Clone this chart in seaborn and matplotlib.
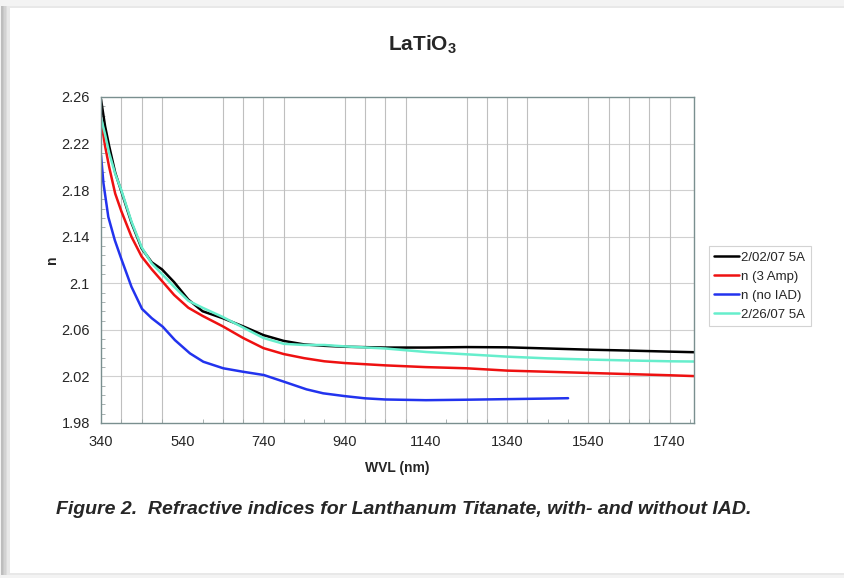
import matplotlib
matplotlib.use("Agg")
import matplotlib.pyplot as plt
import matplotlib.patches as mpatches
import numpy as np
import pandas as pd
import seaborn as sns
from matplotlib.ticker import FixedLocator, FuncFormatter

# data
WVL = [340, 350, 360, 375, 390, 415, 440, 465, 490, 520, 555, 590, 640, 690,
       740, 790, 840, 890, 940, 1040, 1140, 1240, 1340, 1440, 1540, 1640, 1740, 1800]
N_0202_5A = [2.258, 2.235, 2.218, 2.195, 2.179, 2.152, 2.130, 2.118, 2.112, 2.101,
             2.086, 2.076, 2.070, 2.063, 2.0555, 2.0505, 2.0475, 2.0463, 2.0455,
             2.0448, 2.0448, 2.0452, 2.0450, 2.0440, 2.0430, 2.0422, 2.0413, 2.0408]
N_3AMP = [2.240, 2.218, 2.200, 2.177, 2.162, 2.140, 2.123, 2.112, 2.102, 2.090,
          2.079, 2.072, 2.063, 2.053, 2.0443, 2.0392, 2.0357, 2.033, 2.0315,
          2.0295, 2.028, 2.027, 2.025, 2.024, 2.023, 2.022, 2.021, 2.0203]
N_0226_5A = [2.242, 2.228, 2.212, 2.194, 2.180, 2.153, 2.131, 2.117, 2.108, 2.097,
             2.085, 2.079, 2.071, 2.062, 2.053, 2.048, 2.047, 2.047, 2.0458,
             2.044, 2.041, 2.039, 2.037, 2.0355, 2.0345, 2.0337, 2.033, 2.0328]
WVL_NO_IAD = [340, 346, 358, 374, 391, 415, 441, 465, 492, 522, 559, 592, 641, 690,
              741, 791, 846, 887, 940, 990, 1040, 1140, 1240, 1340, 1440, 1490]
N_NO_IAD = [2.210, 2.186, 2.157, 2.137, 2.120, 2.097, 2.078, 2.070, 2.0627, 2.0512,
            2.0398, 2.0326, 2.027, 2.024, 2.0212, 2.0154, 2.0089, 2.0055, 2.0031,
            2.0012, 2.0002, 1.9996, 2.0000, 2.0005, 2.0010, 2.0013]

SERIES = ["2/02/07 5A", "n (3 Amp)", "n (no IAD)", "2/26/07 5A"]
COLORS = ["#000000", "#ee1111", "#2233ee", "#66eecc"]

X_TICKS = [340, 540, 740, 940, 1140, 1340, 1540, 1740]
Y_TICKS = [1.98, 2.02, 2.06, 2.10, 2.14, 2.18, 2.22, 2.26]

# vertical grid lines the original chart shows
GRID_WVL = [390, 440, 490, 640, 690, 740, 790, 940, 990, 1040, 1090,
            1240, 1290, 1340, 1390, 1540, 1590, 1640, 1690, 1740]


def build_frame() -> pd.DataFrame:
    parts = [
        pd.DataFrame({"wvl": WVL, "n": N_0202_5A, "series": SERIES[0]}),
        pd.DataFrame({"wvl": WVL, "n": N_3AMP, "series": SERIES[1]}),
        pd.DataFrame({"wvl": WVL_NO_IAD, "n": N_NO_IAD, "series": SERIES[2]}),
        pd.DataFrame({"wvl": WVL, "n": N_0226_5A, "series": SERIES[3]}),
    ]
    return pd.concat(parts, ignore_index=True)


df = build_frame()

sns.set_style("white")
plt.rcParams["font.family"] = ["Liberation Sans", "DejaVu Sans"]

fig = plt.figure(figsize=(8.44, 5.78), dpi=100)
fig.patch.set_facecolor("white")

# page-like frame with shadow
W, H = 844, 578
fig.add_artist(mpatches.Rectangle((0, 0), 1, 1, transform=fig.transFigure,
                                  facecolor="#f3f3f3", edgecolor="none", zorder=-10))
for i, c in enumerate(["#bdbdbd", "#c8c8c8", "#d2d2d2", "#dcdcdc", "#e8e8e8"]):
    fig.add_artist(mpatches.Rectangle(((1 + i * 1.6) / W, 3 / H), 1, (H - 9) / H,
                                      transform=fig.transFigure,
                                      facecolor=c, edgecolor="none", zorder=-9 + i * 0.1))
fig.add_artist(mpatches.Rectangle((10 / W, 5 / H), 1, (H - 13) / H, transform=fig.transFigure,
                                  facecolor="white", edgecolor="none", zorder=-8))

ax = fig.add_axes([101 / W, 1 - 423 / H, (694 - 101) / W, (423 - 97) / H])

sns.lineplot(data=df, x="wvl", y="n", hue="series", hue_order=SERIES,
             palette=COLORS, linewidth=1.8, sort=False, estimator=None, ax=ax)

ax.set_xlim(340, 1800)
ax.set_ylim(1.98, 2.26)
ax.xaxis.set_major_locator(FixedLocator(X_TICKS))
ax.xaxis.set_minor_locator(FixedLocator(np.arange(340, 1800, 50)))
ax.yaxis.set_major_locator(FixedLocator(Y_TICKS))
ax.yaxis.set_minor_locator(FixedLocator(np.arange(1.98, 2.26, 0.008)))
ax.yaxis.set_major_formatter(FuncFormatter(lambda v, _: f"{round(v, 2):g}"))

ax.grid(False)
for y in Y_TICKS[1:-1]:
    ax.axhline(y, color="#d0d0d0", linewidth=0.8, zorder=0)
for x in GRID_WVL:
    ax.axvline(x, color="#bfbfbf", linewidth=0.8, zorder=0)

ax.tick_params(axis="both", which="major", direction="in", length=3, labelsize=10.5,
               color="#7a8a8a")
ax.tick_params(axis="x", which="major", pad=9)
ax.tick_params(axis="y", which="major", pad=8)
ax.tick_params(axis="both", which="minor", direction="in", length=3, color="#9aa5a5")
ax.tick_params(axis="x", which="minor", bottom=True)
ax.tick_params(axis="y", which="minor", left=True)
for sp in ax.spines.values():
    sp.set_color("#7a8f8f")
    sp.set_linewidth(1.0)

ax.set_xlabel("WVL (nm)", fontsize=10, fontweight="bold", labelpad=8)
ax.set_ylabel("n", fontsize=10, fontweight="bold", labelpad=2)

fig.text(422 / W, 1 - 45 / H, "LaTiO$_\\mathregular{3}$", ha="center", va="center",
         fontsize=15, fontweight="bold")

leg = ax.legend(loc="upper left", bbox_to_anchor=(709 / W, 1 - 246 / H),
                bbox_transform=fig.transFigure, frameon=True, fancybox=False,
                fontsize=9.5, handlelength=1.9, handletextpad=0.15, borderpad=0.4,
                labelspacing=0.52, borderaxespad=0)
leg.get_frame().set_edgecolor("#c8c8c8")
leg.get_frame().set_linewidth(0.8)
for line in leg.get_lines():
    line.set_linewidth(1.8)

fig.text(56 / W, 1 - 509 / H,
         "Figure 2.  Refractive indices for Lanthanum Titanate, with- and without IAD.",
         ha="left", va="center", fontsize=14, fontweight="bold", fontstyle="italic")

fig.savefig("out.png", dpi=100)
